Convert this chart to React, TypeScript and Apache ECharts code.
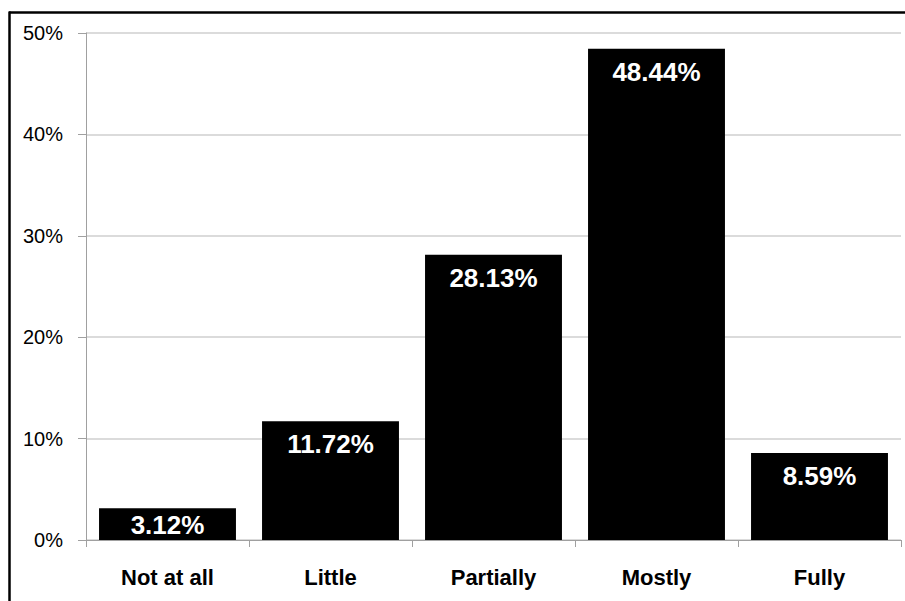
import React, { useEffect, useRef } from "react";
import * as echarts from "echarts";

const categories = ["Not at all", "Little", "Partially", "Mostly", "Fully"];
const values = [3.12, 11.72, 28.13, 48.44, 8.59];
const yTicks = { min: 0, max: 50, interval: 10 };

const SANS = "'Liberation Sans', Arial, sans-serif";

export default function App() {
  const ref = useRef<HTMLDivElement>(null);
  useEffect(() => {
    if (!ref.current) return;
    const chart = echarts.init(ref.current, null, { renderer: "svg" });
    chart.setOption({
      animation: false,
      backgroundColor: "#ffffff",
      grid: { left: 86, right: 4, top: 33, bottom: 61 },
      graphic: [
        { type: "line", shape: { x1: 9, y1: 12.5, x2: 905, y2: 12.5 }, style: { stroke: "#000", lineWidth: 2.5 } },
        { type: "line", shape: { x1: 9.5, y1: 11.5, x2: 9.5, y2: 601 }, style: { stroke: "#000", lineWidth: 2.5 } },
      ],
      xAxis: {
        type: "category",
        data: categories,
        axisLine: { lineStyle: { color: "#a0a0a0", width: 1 } },
        axisTick: { show: true, length: 7, alignWithLabel: false, lineStyle: { color: "#a0a0a0" } },
        axisLabel: {
          color: "#000",
          fontFamily: SANS,
          fontWeight: "bold",
          fontSize: 22,
          margin: 26,
        },
      },
      yAxis: {
        type: "value",
        min: yTicks.min,
        max: yTicks.max,
        interval: yTicks.interval,
        axisLine: { show: true, lineStyle: { color: "#a0a0a0", width: 1 } },
        axisTick: { show: true, length: 8, lineStyle: { color: "#a0a0a0" } },
        splitLine: { lineStyle: { color: "#cfcfcf", width: 1.5 } },
        axisLabel: {
          color: "#000",
          fontFamily: SANS,
          fontSize: 20,
          margin: 23,
          formatter: "{value}%",
        },
      },
      series: [
        {
          type: "bar",
          data: values.map((v, i) =>
            i === 0 ? { value: v, label: { distance: 4 } } : { value: v }
          ),
          barCategoryGap: "16%",
          itemStyle: { color: "#000" },
          label: {
            show: true,
            position: "insideTop",
            distance: 10,
            color: "#fff",
            fontFamily: SANS,
            fontWeight: "bold",
            fontSize: 26,
            formatter: (p: any) => Number(p.value).toFixed(2) + "%",
          },
        },
      ],
    });
    return () => chart.dispose();
  }, []);
  return (
    <div
      ref={ref}
      style={{ position: "absolute", left: 0, top: 0, width: 905, height: 601 }}
    />
  );
}
